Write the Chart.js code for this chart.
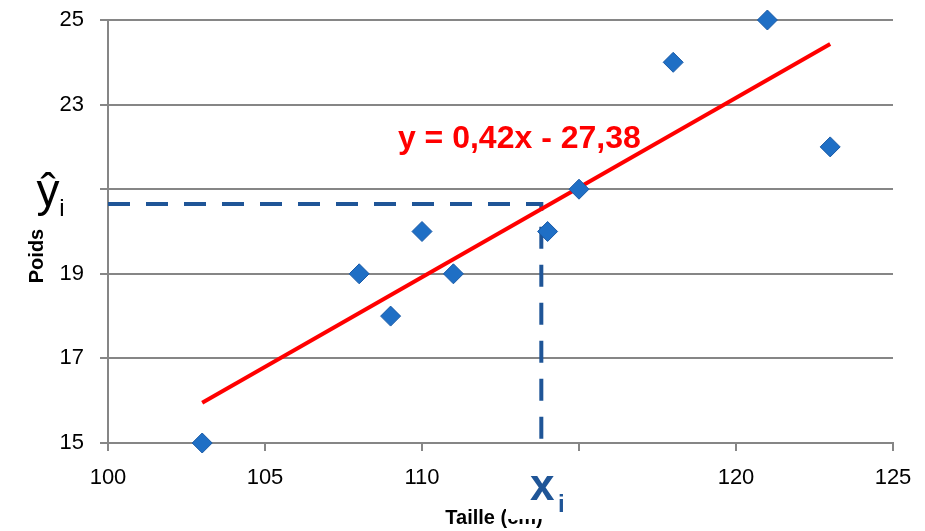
<!DOCTYPE html>
<html>
<head>
<meta charset="utf-8">
<script src="https://cdn.jsdelivr.net/npm/chart.js@4/dist/chart.umd.min.js"></script>
<style>
  html, body { margin: 0; padding: 0; background: #fff; }
  #wrap { width: 925px; height: 531px; }
</style>
</head>
<body>
<div id="wrap"><canvas id="poidsChart" width="925" height="531"></canvas></div>
<script>
// data
const taille = [103, 108, 109, 110, 111, 114, 115, 118, 121, 123];
const poids = [15, 19, 18, 20, 19, 20, 21, 24, 25, 22];

// trend line ends (y = 0,42x - 27,38)
const trendX = [103, 123];
const trendY = [15.95, 24.43];

// the dashed guide to (xi, yi)
const guideX = [100, 113.8, 113.8];
const guideY = [20.65, 20.65, 15];

const yTicks = [15, 17, 19, 21, 23, 25];
const xTicks = [100, 105, 110, 115, 120, 125];
// labels hidden under the yi / xi boxes
const hiddenY = [21];
const hiddenX = [115];

const toPts = (xs, ys) => xs.map((x, i) => ({ x: x, y: ys[i] }));

const labelsPlugin = {
  id: 'labels',
  afterDraw(chart) {
    const ctx = chart.ctx;
    const xs = chart.scales.x;
    const ys = chart.scales.y;
    ctx.save();

    // axis titles
    ctx.fillStyle = '#000';
    ctx.font = 'bold 20px "Liberation Sans", Arial, sans-serif';
    ctx.textAlign = 'center';
    ctx.textBaseline = 'middle';
    ctx.fillText('Taille (cm)', 494, 518);
    ctx.save();
    ctx.translate(37, 256);
    ctx.rotate(-Math.PI / 2);
    ctx.fillText('Poids', 0, 0);
    ctx.restore();

    // white box of the xi label, hides part of the title
    ctx.fillStyle = '#fff';
    ctx.fillRect(506, 462, 54, 57);

    // xi
    const xiPx = xs.getPixelForValue(guideX[1]);
    ctx.fillStyle = '#1F5597';
    ctx.font = 'bold 44px "Liberation Sans", Arial, sans-serif';
    ctx.textAlign = 'center';
    ctx.textBaseline = 'alphabetic';
    ctx.fillText('x', xiPx + 1, 500);
    ctx.font = 'bold 24px "Liberation Sans", Arial, sans-serif';
    ctx.fillText('i', xiPx + 20, 512);

    // y hat i
    ctx.fillStyle = '#000';
    ctx.font = '46px "Liberation Sans", Arial, sans-serif';
    ctx.fillText('\u0177', 48, 206);
    ctx.font = '24px "Liberation Sans", Arial, sans-serif';
    ctx.fillText('i', 62, 216);

    // equation
    ctx.fillStyle = '#FF0000';
    ctx.font = 'bold 32px "Liberation Sans", Arial, sans-serif';
    ctx.textAlign = 'center';
    ctx.textBaseline = 'middle';
    ctx.fillText('y = 0,42x - 27,38', xs.getPixelForValue(113.1), ys.getPixelForValue(22.18));

    ctx.restore();
  }
};

new Chart(document.getElementById('poidsChart'), {
  type: 'scatter',
  data: {
    datasets: [
      {
        label: 'Poids',
        data: toPts(taille, poids),
        pointStyle: 'rectRot',
        pointRadius: 10,
        backgroundColor: '#1F6FC5',
        borderColor: '#1A5AA6',
        borderWidth: 1,
        clip: false,
        order: 0
      },
      {
        label: 'Tendance',
        data: toPts(trendX, trendY),
        showLine: true,
        borderColor: '#FF0000',
        borderWidth: 4,
        pointRadius: 0,
        order: 1
      },
      {
        label: 'Guide',
        data: toPts(guideX, guideY),
        showLine: true,
        borderColor: '#1F5597',
        borderWidth: 4,
        borderDash: [22, 16],
        pointRadius: 0,
        order: 2
      }
    ]
  },
  options: {
    responsive: false,
    animation: false,
    layout: { padding: { top: 20, right: 32, left: 0, bottom: 0 } },
    plugins: { legend: { display: false }, tooltip: { enabled: false } },
    scales: {
      x: {
        type: 'linear',
        min: 100,
        max: 125,
        afterBuildTicks: s => { s.ticks = xTicks.map(v => ({ value: v })); },
        afterFit: s => { s.height = 88; s.paddingLeft = 0; s.paddingRight = 0; },
        grid: { drawOnChartArea: false, drawTicks: true, tickLength: 8, color: '#868686', lineWidth: 2 },
        border: { color: '#868686', width: 2 },
        ticks: {
          color: '#000',
          font: { size: 22, family: '"Liberation Sans", Arial, sans-serif' },
          padding: 14,
          maxRotation: 0,
          callback: v => (hiddenX.includes(v) ? '' : v)
        }
      },
      y: {
        type: 'linear',
        min: 15,
        max: 25,
        afterBuildTicks: s => { s.ticks = yTicks.map(v => ({ value: v })); },
        afterFit: s => { s.width = 108; s.paddingTop = 0; s.paddingBottom = 0; },
        grid: { color: '#868686', lineWidth: 2, tickLength: 8 },
        border: { color: '#868686', width: 2 },
        ticks: {
          color: '#000',
          font: { size: 22, family: '"Liberation Sans", Arial, sans-serif' },
          padding: 16,
          callback: v => (hiddenY.includes(v) ? '' : v)
        }
      }
    }
  },
  plugins: [labelsPlugin]
});
</script>
</body>
</html>
